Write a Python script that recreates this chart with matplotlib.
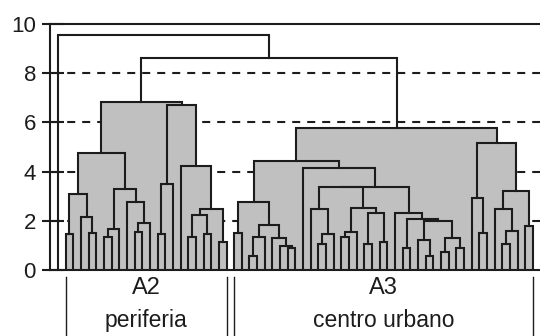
import matplotlib
matplotlib.use("Agg")
import matplotlib.pyplot as plt

plt.rcParams["font.family"] = ["Liberation Sans", "DejaVu Sans"]
plt.rcParams["lines.scale_dashes"] = False

L = None  # a single observation (leaf)

# Agglomeration trees: (merge height, left branch, right branch)
tree_a2 = (6.84,
    (4.77,
        (3.08, (1.45, L, L), (2.15, L, (1.52, L, L))),
        (3.29, (1.67, (1.35, L, L), L), (2.77, L, (1.92, (1.53, L, L), L)))),
    (6.70,
        (3.50, (1.45, L, L), L),
        (4.23, L, (2.47, (2.24, (1.35, L, L), (1.45, L, L)), (1.15, L, L)))))

tree_a3 = (5.76,
    (4.44,
        (2.76, (1.52, L, L),
               (1.83, (1.36, (0.58, L, L), L), (1.29, L, (0.98, L, (0.91, L, L))))),
        (4.13, L,
            (3.38,
                (3.36, (2.50, L, (1.45, (1.04, L, L), L)),
                       (2.54, (1.53, (1.35, L, L), L), (2.30, (1.04, L, L), (1.12, L, L)))),
                (2.30, L, (2.06, (0.88, L, L),
                                 (2.00, (1.22, L, (0.57, L, L)),
                                        (1.29, (0.75, L, L), (0.88, L, L)))))))),
    (5.15,
        (2.91, L, (1.52, L, L)),
        (3.22, (2.47, L, (1.59, (1.04, L, L), L)), (1.80, L, L))))

h_groups = 8.60      # A2 joined with A3
h_root = 9.57        # isolated observation joined with all the rest
fill_below = 7.0     # clusters merged under this level are shaded

group_names = ["A2", "A3"]
group_desc = ["periferia", "centro urbano"]
yticks = [0, 2, 4, 6, 8, 10]
grid_levels = [2, 4, 6, 8]

INK = "#1c1c1c"
SHADE = "#c0c0c0"
LW = 1.5

fig = plt.figure(figsize=(5.4, 3.36), dpi=100)
ax = fig.add_axes([49.5 / 540, 66 / 336, 494.9 / 540, 246 / 336])

segments = []   # (xs, ys) for each drawn link
shaded = []     # (x_left, x_right, height)
counter = [0]


def count_leaves(node):
    if node is None:
        return 1
    return count_leaves(node[1]) + count_leaves(node[2])


def layout(node):
    """Return (x, height) of the node, collecting its links."""
    if node is None:
        x = counter[0]
        counter[0] += 1
        return x, 0.0
    h, left, right = node
    xl, hl = layout(left)
    xr, hr = layout(right)
    segments.append(([xl, xl, xr, xr], [hl, h, h, hr]))
    if h < fill_below:
        shaded.append((xl, xr, h))
    return (xl + xr) / 2.0, h


full_tree = (h_root, L, (h_groups, tree_a2, tree_a3))
layout(full_tree)

# shaded cluster blocks
for xl, xr, h in shaded:
    ax.bar(xl, h, width=xr - xl, align="edge", color=SHADE, lw=0, zorder=1)

# links
for xs, ys in segments:
    ax.plot(xs, ys, color=INK, lw=LW, zorder=3,
            solid_capstyle="projecting", solid_joinstyle="miter")

# dashed reference levels behind the blocks
for g in grid_levels:
    ax.axhline(g, color=INK, lw=LW, ls=(9.2, (5.76, 5.04)), zorder=0.5)

ax.set_xlim(-1.11, 63.5)
ax.set_ylim(0, 10)

for side in ["left", "bottom", "top"]:
    ax.spines[side].set_color(INK)
    ax.spines[side].set_linewidth(LW)
ax.spines["right"].set_visible(False)

ax.set_xticks([])
ax.set_yticks(yticks)
ax.set_yticks(yticks, minor=True)
ax.yaxis.remove_overlapping_locs = False
ax.tick_params(axis="y", which="major", direction="out", length=5.8,
               width=LW, color=INK, pad=4, labelsize=16, labelcolor=INK)
ax.tick_params(axis="y", which="minor", direction="in", length=10,
               width=LW, color=INK)

# group brackets and captions beneath the tree
n_a2 = count_leaves(tree_a2)
n_a3 = count_leaves(tree_a3)
spans = [(1, n_a2), (1 + n_a2, n_a2 + n_a3)]
for (first, last), name, desc in zip(spans, group_names, group_desc):
    for xb in (first, last):
        ax.plot([xb, xb], [-0.28, -3.0], color=INK, lw=1.0, clip_on=False)
    xc = (first + last) / 2.0
    ax.text(xc, -0.72, name, ha="center", va="center", fontsize=17,
            color=INK, clip_on=False)
    ax.text(xc, -2.07, desc, ha="center", va="center", fontsize=16.5,
            color=INK, clip_on=False)

fig.savefig("out.png", dpi=100)
